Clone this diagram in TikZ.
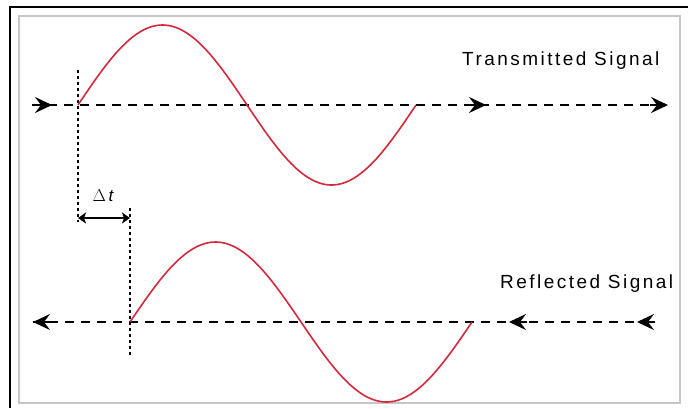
\documentclass[tikz,border=0pt]{standalone}
\usepackage{fontspec}
\setmainfont{Liberation Sans}
\usetikzlibrary{arrows.meta}
\definecolor{sigred}{RGB}{214,40,60}
\tikzset{
  baseln/.style={line width=2pt, dash pattern=on 9pt off 7pt},
  dotline/.style={line width=2.2pt, dash pattern=on 3pt off 3pt},
  sig/.style={sigred, line width=1.6pt},
  headr/.style={line width=2pt, -{Stealth[length=17pt,width=16pt,inset=6pt]}},
  lbl/.style={font=\fontsize{19}{22}\selectfont\addfontfeature{LetterSpace=13}, inner sep=0pt},
  dt/.style={line width=1.6pt, {Stealth[length=8pt,width=11pt,inset=2pt]}-{Stealth[length=8pt,width=11pt,inset=2pt]}}
}
\begin{document}
\begin{tikzpicture}[x=1pt,y=-1pt]
\useasboundingbox (0,0) rectangle (688,408);
% frame
\draw[line width=2pt] (10,408) -- (10,7) -- (688,7);
\draw[gray!45, line width=1.5pt] (19,403) -- (19,16) -- (680,16) -- (680,403) -- cycle;
% coordinates
\coordinate (tL) at (32,105);
\coordinate (tR) at (668,105);
\coordinate (bL) at (33,322);
\coordinate (bR) at (655,322);
% dashed baselines
\draw[baseln] (tL) -- (tR);
\draw[baseln] (bL) -- (bR);
% arrowheads top (pointing right)
\draw[headr] (34,105) -- (52,105);
\draw[headr] (468,105) -- (486,105);
\draw[headr] (650,105) -- (668,105);
% arrowheads bottom (pointing left)
\draw[headr] (52,322) -- (33,322);
\draw[headr] (527,322) -- (509,322);
\draw[headr] (655,322) -- (637,322);
% dotted verticals
\draw[dotline] (78,70) -- (78,222);
\draw[dotline] (130,208) -- (130,356);
% delta t
\draw[dt] (78,218) -- (130,218);
\node[font=\fontsize{17}{20}\selectfont\addfontfeature{LetterSpace=20}] (dtl) at (105,196) {$\Delta$\,\textit{t}};
% sine curves
\draw[sig] plot[domain=0:338, samples=120] ({78+\x},{105-80*sin(\x/338*360)});
\draw[sig] plot[domain=0:342, samples=120] ({130+\x},{322-80*sin(\x/342*360)});
% labels
\node[lbl, anchor=west] (tx) at (462,61) {Transmitted Signal};
\node[lbl, anchor=west] (rx) at (500,284) {Reflected Signal};
\end{tikzpicture}
\end{document}
